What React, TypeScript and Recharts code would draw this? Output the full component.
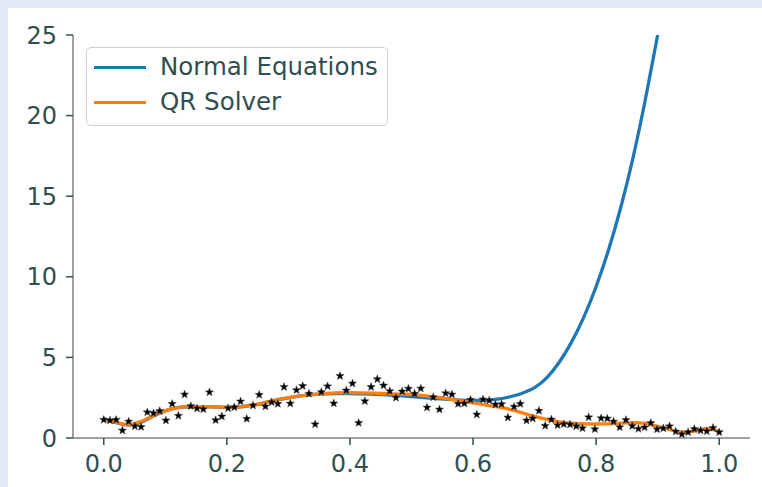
import { ComposedChart, Line, Scatter, XAxis, YAxis } from 'recharts'

// noisy samples, 100 points evenly spaced on [0, 1]
const SAMPLE_Y = [
  1.13, 1.09, 1.13, 0.47, 1.02, 0.73, 0.69, 1.6, 1.54, 1.67,
  1.09, 2.12, 1.38, 2.7, 1.98, 1.83, 1.79, 2.84, 1.11, 1.34,
  1.85, 1.91, 2.27, 1.19, 2.02, 2.68, 1.96, 2.22, 2.12, 3.17,
  2.14, 2.97, 3.23, 2.75, 0.85, 2.85, 3.21, 2.15, 3.85, 2.95,
  3.38, 0.94, 2.29, 3.17, 3.65, 3.26, 2.91, 2.5, 2.89, 3.06,
  2.75, 3.07, 1.89, 2.53, 1.77, 2.78, 2.7, 2.12, 2.14, 2.37,
  1.46, 2.39, 2.33, 2.08, 2.1, 1.27, 1.94, 2.12, 1.09, 1.21,
  1.69, 0.76, 1.15, 0.8, 0.86, 0.84, 0.73, 0.61, 1.29, 0.55,
  1.23, 1.21, 1.02, 0.67, 1.12, 0.75, 0.57, 0.66, 0.93, 0.54,
  0.6, 0.73, 0.4, 0.23, 0.36, 0.56, 0.47, 0.42, 0.63, 0.36,
]

const CURVE_X = [
  0, 0.02, 0.04, 0.06, 0.08, 0.1, 0.12, 0.14, 0.16, 0.18,
  0.2, 0.22, 0.24, 0.26, 0.28, 0.3, 0.32, 0.34, 0.36, 0.38,
  0.4, 0.42, 0.44, 0.46, 0.48, 0.5, 0.52, 0.54, 0.56, 0.58,
  0.6, 0.62, 0.64, 0.66, 0.68, 0.7, 0.72, 0.74, 0.76, 0.78,
  0.8, 0.82, 0.84, 0.86, 0.88, 0.9, 0.92, 0.94, 0.96, 0.98, 1.0,
]

const QR_Y = [
  1.15, 0.97, 0.84, 1.02, 1.38, 1.7, 1.89, 1.95, 1.95, 1.93,
  1.91, 1.93, 2.03, 2.18, 2.36, 2.5, 2.62, 2.71, 2.77, 2.8,
  2.81, 2.8, 2.78, 2.75, 2.72, 2.7, 2.63, 2.54, 2.43, 2.3,
  2.18, 2.06, 1.93, 1.78, 1.56, 1.34, 1.15, 1.0, 0.92, 0.88,
  0.87, 0.88, 0.92, 0.96, 0.9, 0.72, 0.52, 0.34, 0.43, 0.6, 0.38,
]

// normal equations fit blows up past ~0.65, last visible point at the top edge
const NORMAL_Y = [
  1.2, 0.95, 0.8, 0.98, 1.35, 1.68, 1.88, 1.94, 1.94, 1.92,
  1.9, 1.92, 2.02, 2.17, 2.35, 2.49, 2.61, 2.69, 2.74, 2.76,
  2.76, 2.74, 2.71, 2.68, 2.63, 2.57, 2.5, 2.44, 2.39, 2.35,
  2.33, 2.34, 2.41, 2.56, 2.78, 3.12, 3.75, 4.7, 5.95, 7.5,
  9.4, 11.65, 14.3, 17.4, 21.0, 25.0,
]

const X_TICKS = [0, 0.2, 0.4, 0.6, 0.8, 1.0]
const Y_TICKS = [0, 5, 10, 15, 20, 25]

const samples = SAMPLE_Y.map((y, i) => ({ x: i / 99, y }))
const qr = QR_Y.map((y, i) => ({ x: CURVE_X[i], y }))
const normal = NORMAL_Y.map((y, i) => ({ x: CURVE_X[i], y }))

const TEXT = '#2f4f4f'
const FONT = 'DejaVu Sans'

function Star(props: any) {
  const { cx, cy } = props
  const pts: string[] = []
  for (let k = 0; k < 10; k++) {
    const r = k % 2 === 0 ? 4.3 : 1.8
    const a = -Math.PI / 2 + (k * Math.PI) / 5
    pts.push(`${cx + r * Math.cos(a)},${cy + r * Math.sin(a)}`)
  }
  return <polygon points={pts.join(' ')} fill="#000" stroke="#444" strokeWidth={0.5} />
}

function FitLegend() {
  const rows = [
    { name: 'Normal Equations', color: '#1f77b4' },
    { name: 'QR Solver', color: '#ff7f0e' },
  ]
  return (
    <div
      style={{
        position: 'absolute',
        left: 78,
        top: 39,
        width: 302,
        height: 79,
        boxSizing: 'border-box',
        border: '1.5px solid #d0d0d0',
        borderRadius: 5,
        background: 'rgba(255,255,255,0.85)',
        fontFamily: FONT,
        fontSize: 24.5,
        color: TEXT,
      }}
    >
      {rows.map((r, i) => (
        <div key={r.name}>
          <div
            style={{
              position: 'absolute',
              left: 7,
              top: 18 + i * 35,
              width: 52,
              height: 3.3,
              background: r.color,
            }}
          />
          <div
            style={{
              position: 'absolute',
              left: 73,
              top: 4 + i * 35,
              lineHeight: '30px',
              whiteSpace: 'nowrap',
            }}
          >
            {r.name}
          </div>
        </div>
      ))}
    </div>
  )
}

export default function App() {
  return (
    <div style={{ position: 'fixed', inset: 0, background: '#dfeaf6' }}>
      <div style={{ position: 'absolute', left: 8, top: 8, right: 0, bottom: 0, background: '#fff' }}>
        <ComposedChart width={754} height={479} margin={{ top: 27, right: 12, left: 0, bottom: 0 }}>
          <XAxis
            type="number"
            dataKey="x"
            domain={[-0.05, 1.05]}
            ticks={X_TICKS}
            tickFormatter={(v) => v.toFixed(1)}
            allowDataOverflow
            height={49}
            tickSize={7}
            tickMargin={10}
            axisLine={{ stroke: '#808080', strokeWidth: 1.5 }}
            tickLine={{ stroke: TEXT, strokeWidth: 1.5 }}
            tick={{ fill: TEXT, fontSize: 24, fontFamily: FONT }}
          />
          <YAxis
            type="number"
            dataKey="y"
            domain={[0, 25]}
            ticks={Y_TICKS}
            allowDataOverflow
            width={65}
            tickSize={7}
            tickMargin={9}
            axisLine={{ stroke: '#808080', strokeWidth: 1.5 }}
            tickLine={{ stroke: TEXT, strokeWidth: 1.5 }}
            tick={{ fill: TEXT, fontSize: 24, fontFamily: FONT }}
          />
          <Scatter data={samples} dataKey="y" shape={<Star />} isAnimationActive={false} />
          <Line
            data={normal}
            dataKey="y"
            name="Normal Equations"
            type="monotone"
            stroke="#1f77b4"
            strokeWidth={3.3}
            dot={false}
            isAnimationActive={false}
          />
          <Line
            data={qr}
            dataKey="y"
            name="QR Solver"
            type="monotone"
            stroke="#ff7f0e"
            strokeWidth={3.3}
            dot={false}
            isAnimationActive={false}
          />
        </ComposedChart>
        <FitLegend />
      </div>
    </div>
  )
}
